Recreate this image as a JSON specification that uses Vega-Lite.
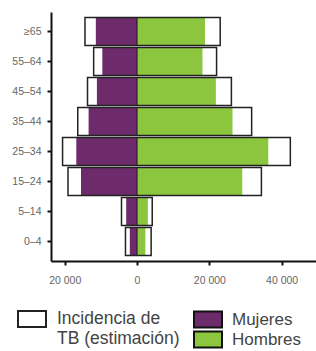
{
  "$schema": "https://vega.github.io/schema/vega-lite/v6.json",
  "width": 265,
  "height": 249,
  "autosize": {"type": "none"},
  "padding": {"left": 51, "top": 12, "right": 0, "bottom": 90},
  "background": "white",
  "config": {
    "view": {"stroke": null},
    "font": "Liberation Sans",
    "axis": {
      "grid": false,
      "domainColor": "#111",
      "domainWidth": 2,
      "tickColor": "#111",
      "tickWidth": 2,
      "tickSize": 4,
      "labelColor": "#666",
      "labelFontSize": 10.5,
      "labelFont": "Liberation Sans",
      "title": null
    }
  },
  "datasets": {
    "notif": [
      {"edad": "≥65", "sexo": "Mujeres", "casos": -11400},
      {"edad": "≥65", "sexo": "Hombres", "casos": 18800},
      {"edad": "55–64", "sexo": "Mujeres", "casos": -9600},
      {"edad": "55–64", "sexo": "Hombres", "casos": 18100},
      {"edad": "45–54", "sexo": "Mujeres", "casos": -11100},
      {"edad": "45–54", "sexo": "Hombres", "casos": 21800},
      {"edad": "35–44", "sexo": "Mujeres", "casos": -13400},
      {"edad": "35–44", "sexo": "Hombres", "casos": 26400},
      {"edad": "25–34", "sexo": "Mujeres", "casos": -16800},
      {"edad": "25–34", "sexo": "Hombres", "casos": 36300},
      {"edad": "15–24", "sexo": "Mujeres", "casos": -15500},
      {"edad": "15–24", "sexo": "Hombres", "casos": 29100},
      {"edad": "5–14", "sexo": "Mujeres", "casos": -3000},
      {"edad": "5–14", "sexo": "Hombres", "casos": 3000},
      {"edad": "0–4", "sexo": "Mujeres", "casos": -2000},
      {"edad": "0–4", "sexo": "Hombres", "casos": 2300}
    ],
    "est": [
      {"edad": "≥65", "tipo": "Incidencia de|TB (estimación)", "min": -14400, "max": 23000},
      {"edad": "55–64", "tipo": "Incidencia de|TB (estimación)", "min": -12000, "max": 22000},
      {"edad": "45–54", "tipo": "Incidencia de|TB (estimación)", "min": -13700, "max": 26100},
      {"edad": "35–44", "tipo": "Incidencia de|TB (estimación)", "min": -16400, "max": 31700},
      {"edad": "25–34", "tipo": "Incidencia de|TB (estimación)", "min": -20600, "max": 42400},
      {"edad": "15–24", "tipo": "Incidencia de|TB (estimación)", "min": -19100, "max": 34400},
      {"edad": "5–14", "tipo": "Incidencia de|TB (estimación)", "min": -4300, "max": 4200},
      {"edad": "0–4", "tipo": "Incidencia de|TB (estimación)", "min": -3200, "max": 3900}
    ]
  },
  "encoding": {
    "y": {
      "field": "edad",
      "type": "nominal",
      "sort": ["≥65", "55–64", "45–54", "35–44", "25–34", "15–24", "5–14", "0–4"],
      "scale": {"paddingInner": 0.07, "paddingOuter": 0.185},
      "axis": {"labelPadding": 6}
    }
  },
  "layer": [
    {
      "data": {"name": "notif"},
      "mark": {"type": "bar"},
      "encoding": {
        "x": {
          "field": "casos",
          "type": "quantitative",
          "scale": {"domain": [-23800, 49500], "nice": false, "zero": false},
          "axis": {
            "values": [-20000, 0, 20000, 40000],
            "labelExpr": "replace(format(abs(datum.value), ','), ',', ' ')",
            "labelPadding": 10
          }
        },
        "x2": {"datum": 0},
        "color": {
          "field": "sexo",
          "type": "nominal",
          "scale": {"domain": ["Mujeres", "Hombres"], "range": ["#6E2B6B", "#8CC63F"]},
          "legend": {
            "orient": "none",
            "legendX": 142,
            "legendY": 298,
            "title": null,
            "direction": "vertical",
            "symbolType": "M-1,-0.57H1V0.57H-1Z",
            "symbolSize": 784,
            "clipHeight": 19,
            "symbolStrokeColor": "#111",
            "symbolStrokeWidth": 2,
            "symbolOpacity": 1,
            "labelFontSize": 17,
            "labelColor": "#444",
            "labelOffset": 9,
            "rowPadding": 1
          }
        }
      }
    },
    {
      "data": {"name": "notif"},
      "transform": [{"filter": "datum.sexo == 'Mujeres'"}],
      "mark": {"type": "tick", "color": "#2a1228", "thickness": 1.5, "size": 27, "orient": "vertical"},
      "encoding": {
        "x": {"datum": 0, "type": "quantitative"}
      }
    },
    {
      "data": {"name": "est"},
      "mark": {"type": "bar", "fill": "transparent", "strokeWidth": 1.5},
      "encoding": {
        "x": {"field": "min", "type": "quantitative"},
        "x2": {"field": "max"},
        "stroke": {
          "field": "tipo",
          "type": "nominal",
          "scale": {"range": ["#222"]},
          "legend": {
            "orient": "none",
            "legendX": -28,
            "legendY": 298,
            "title": null,
            "symbolType": "M-1.75,-1H1.75V1H-1.75Z",
            "symbolSize": 256,
            "symbolStrokeWidth": 2,
            "symbolFillColor": "white",
            "labelFontSize": 17.5,
            "labelColor": "#444",
            "labelOffset": 16,
            "labelExpr": "split(datum.label, '|')"
          }
        }
      }
    }
  ]
}
